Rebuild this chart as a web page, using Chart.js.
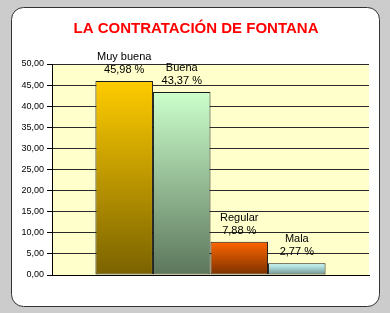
<!DOCTYPE html>
<html>
<head>
<meta charset="utf-8">
<script src="https://cdn.jsdelivr.net/npm/chart.js@4/dist/chart.umd.min.js"></script>
<style>
    html, body { margin: 0; padding: 0; background: #cccccc; }
    canvas { display: block; }
</style>
</head>
<body>
<canvas id="grafikContratacion" width="390" height="313"></canvas>
<script>
// datos
const categorias = ['Muy buena', 'Buena', 'Regular', 'Mala'];
const porcentajes = [45.98, 43.37, 7.88, 2.77];
const coloresArriba = ['#ffcc00', '#ccffcc', '#ff6600', '#ccffff'];
const coloresAbajo = ['#7a6200', '#5c765c', '#7a3000', '#6f9090'];
const titulo = 'LA CONTRATACIÓN DE FONTANA';
const fuente = '"Liberation Sans", Arial, sans-serif';

function formatoNumero(v) {
    return v.toFixed(2).replace('.', ',');
}

function degradado(i) {
    return function (context) {
        let chart = context.chart;
        if (!chart.chartArea || context.raw === undefined) {
            return coloresArriba[i];
        }
        let y = chart.scales.y;
        let g = chart.ctx.createLinearGradient(0, y.getPixelForValue(context.raw), 0, y.getPixelForValue(0));
        g.addColorStop(0, coloresArriba[i]);
        g.addColorStop(1, coloresAbajo[i]);
        return g;
    };
}

// fondo gris, panel blanco redondeado, area amarilla y titulo
const fondoPlugin = {
    id: 'fondo',
    beforeDraw: function (chart) {
        let ctx = chart.ctx;
        let area = chart.chartArea;
        ctx.save();
        ctx.fillStyle = '#cccccc';
        ctx.fillRect(0, 0, chart.width, chart.height);
        ctx.beginPath();
        ctx.roundRect(11.5, 7.5, 368, 299, 12);
        ctx.fillStyle = '#ffffff';
        ctx.fill();
        ctx.strokeStyle = '#333333';
        ctx.lineWidth = 1;
        ctx.stroke();
        ctx.fillStyle = '#ffffcc';
        ctx.fillRect(area.left, area.top, area.right - area.left, area.bottom - area.top);
        ctx.fillStyle = '#ff0000';
        ctx.font = 'bold 15px ' + fuente;
        ctx.textAlign = 'center';
        ctx.textBaseline = 'middle';
        ctx.fillText(titulo, 196, 29);
        ctx.restore();
    }
};

// etiquetas encima de cada barra
const etiquetasPlugin = {
    id: 'etiquetas',
    afterDatasetsDraw: function (chart) {
        let ctx = chart.ctx;
        ctx.save();
        ctx.fillStyle = '#000000';
        ctx.font = '11px ' + fuente;
        ctx.textAlign = 'center';
        ctx.textBaseline = 'middle';
        chart.data.datasets.forEach(function (ds, i) {
            let bar = chart.getDatasetMeta(i).data[0];
            ctx.fillText(ds.label, bar.x, bar.y - 24);
            ctx.fillText(formatoNumero(ds.data[0]) + ' %', bar.x, bar.y - 11);
        });
        ctx.restore();
    }
};

new Chart(document.getElementById('grafikContratacion'), {
    type: 'bar',
    data: {
        labels: [''],
        datasets: categorias.map(function (cat, i) {
            return {
                label: cat,
                data: [porcentajes[i]],
                backgroundColor: degradado(i),
                borderColor: '#1a1a1a',
                borderWidth: 1,
                borderSkipped: false,
                categoryPercentage: 0.726,
                barPercentage: 1.0
            };
        })
    },
    options: {
        responsive: false,
        animation: false,
        devicePixelRatio: 1,
        layout: {
            padding: { top: 64, left: 0, right: 21, bottom: 38 }
        },
        plugins: {
            legend: { display: false },
            title: { display: false },
            tooltip: { enabled: false }
        },
        scales: {
            x: {
                grid: { display: false },
                ticks: { display: false },
                border: { display: true, color: '#000000', width: 1 },
                afterFit: function (scale) { scale.height = 0; }
            },
            y: {
                min: 0,
                max: 50,
                ticks: {
                    stepSize: 5,
                    color: '#000000',
                    padding: 3,
                    font: { family: fuente, size: 9 },
                    callback: function (value) {
                        return formatoNumero(value);
                    }
                },
                grid: {
                    color: '#2a2a2a',
                    tickColor: '#000000',
                    tickLength: 5
                },
                border: { display: true, color: '#000000', width: 1 },
                afterFit: function (scale) { scale.width = 52; }
            }
        }
    },
    plugins: [fondoPlugin, etiquetasPlugin]
});
</script>
</body>
</html>
